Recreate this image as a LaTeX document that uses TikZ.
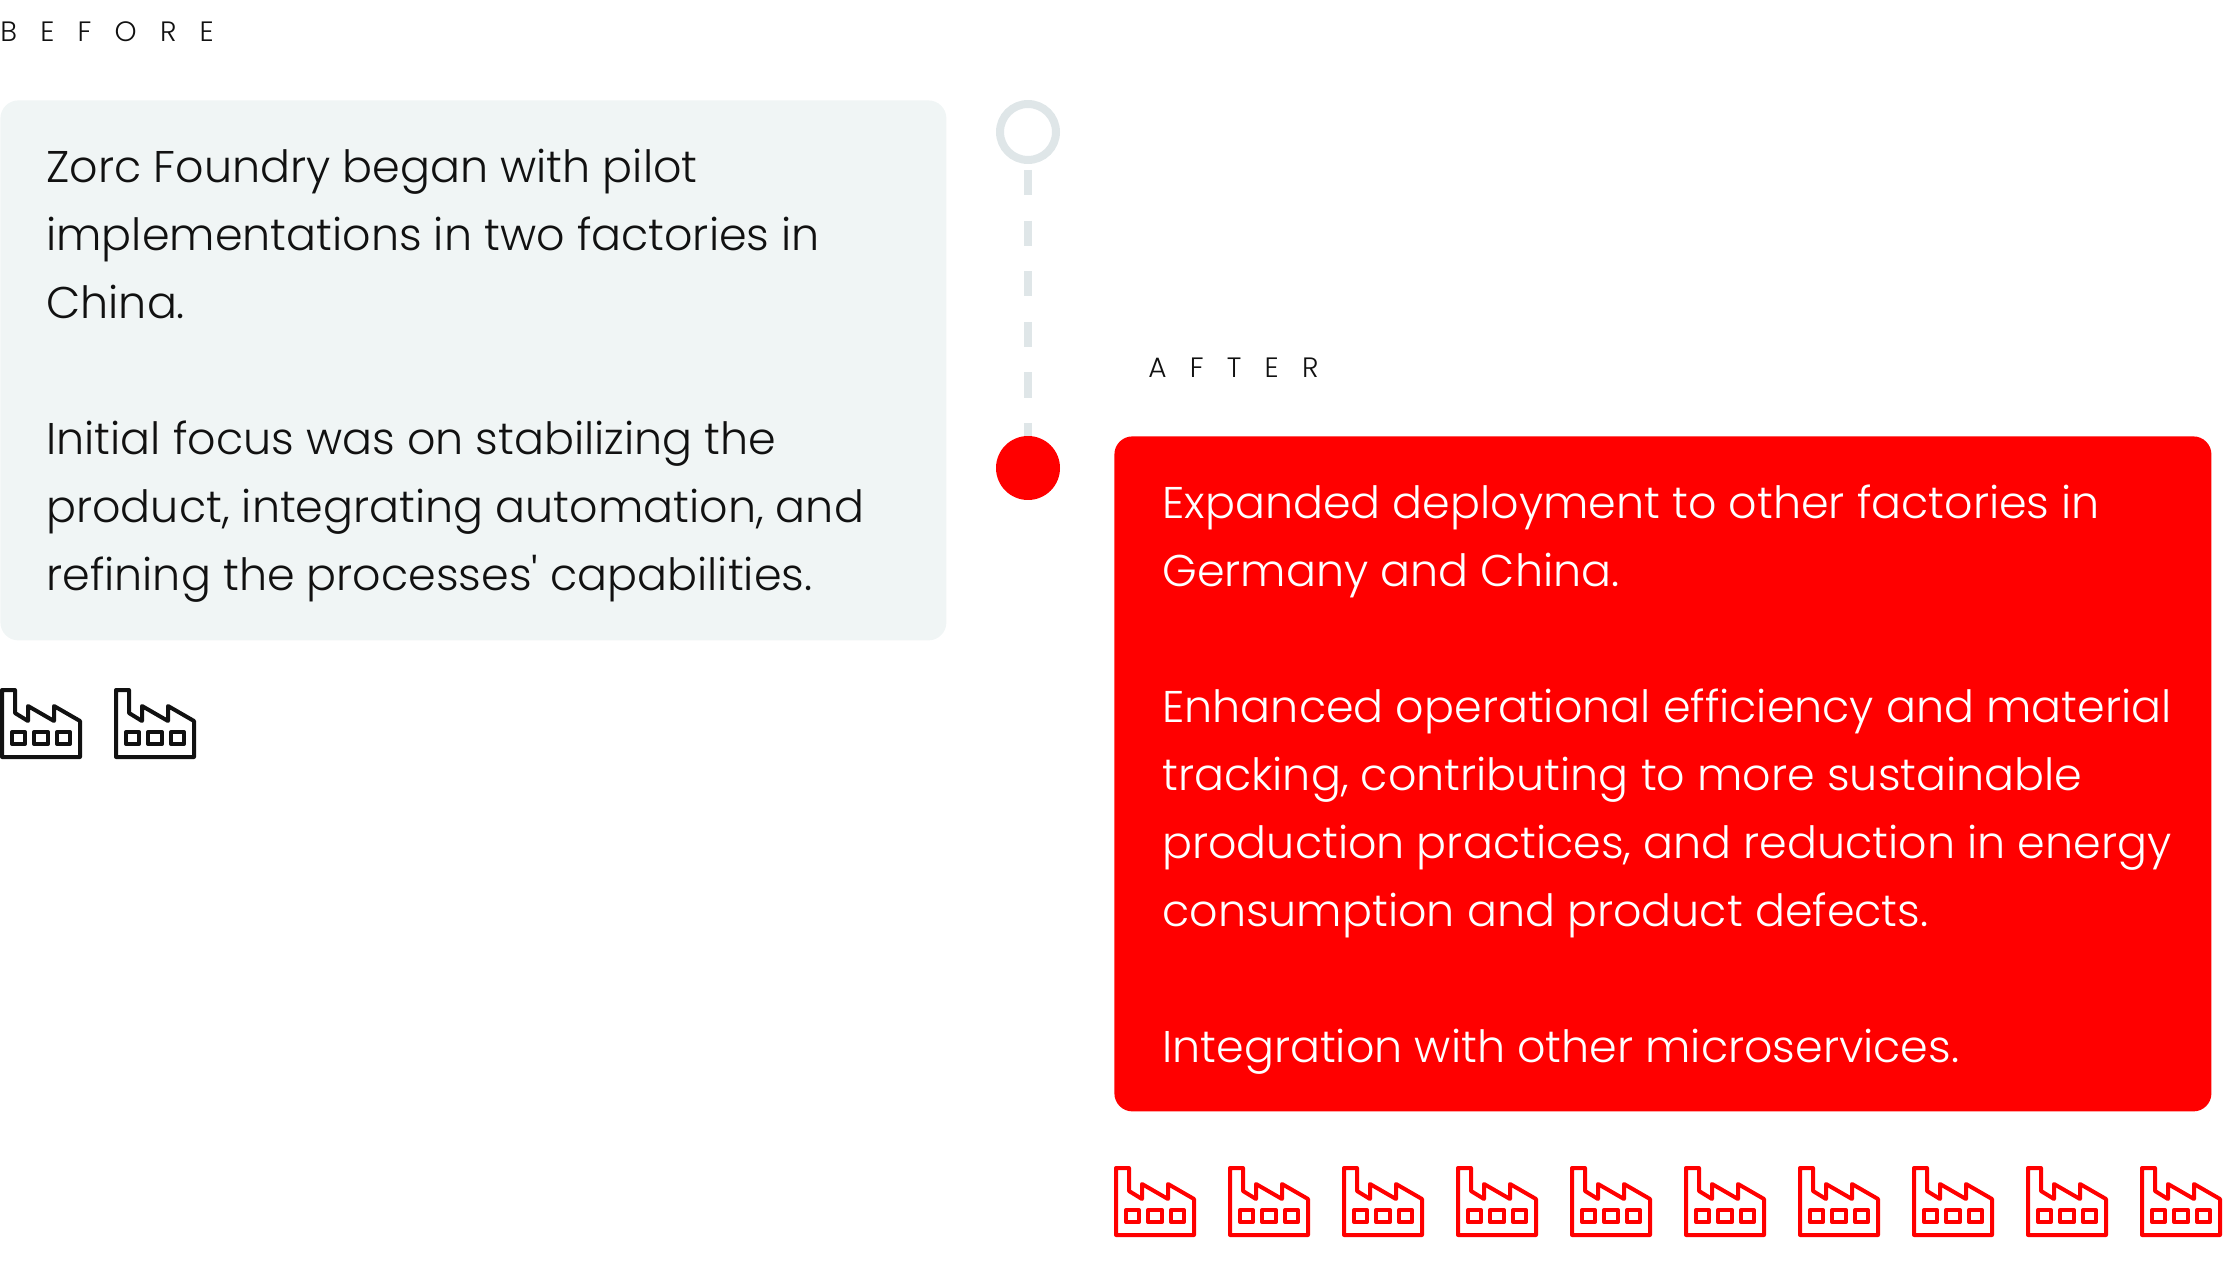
\documentclass[tikz,border=0pt]{standalone}
\usepackage{fontspec}
\setmainfont{Poppins Light}
\newfontfamily\labelfont[LetterSpace=83]{Poppins Light}
\definecolor{rot}{HTML}{FF0000}
\definecolor{hell}{HTML}{F0F5F5}
\definecolor{ringg}{HTML}{DFE6E8}
\definecolor{tinte}{HTML}{111111}
\tikzset{
  panel/.style={anchor=north west,rounded corners=9pt,inner sep=0pt},
  paneltext/.style={anchor=west,inner sep=0pt,align=left,yshift=-2.7pt,font=\fontsize{22.2}{34}\selectfont},
  steplabel/.style={anchor=west,inner sep=0pt,tinte,font=\labelfont\fontsize{14}{16}\selectfont},
  dotnode/.style={circle,inner sep=0pt,minimum size=32pt},
  iconline/.style={line width=2pt,line join=round},
  factory/.pic={
    \draw[iconline] (2,2)--(15,2)--(15,25)--(28,33)--(28,18)--(54,33)--(54,18)--(80,33)--(80,69)--(2,69)--cycle;
    \draw[iconline] (12,44) rectangle (25,56);
    \draw[iconline] (34,44) rectangle (48,56);
    \draw[iconline] (57,44) rectangle (70,56);
  },
}
\begin{document}
\begin{tikzpicture}[x=0.5pt,y=-0.5pt]
  \useasboundingbox (0,0) rectangle (2224,1278);
  \node[steplabel] (beforelabel) at (0,32) {BEFORE};
  \node[steplabel] (afterlabel) at (1148,368) {AFTER};
  \node[panel,fill=hell,minimum width=473pt,minimum height=270pt] (beforebox) at (0,100) {};
  \node[paneltext,text=tinte,xshift=23pt] (beforetext) at (beforebox.west)
    {Zorc Foundry began with pilot\\implementations in two factories in\\China.\\[34pt]Initial focus was on stabilizing the\\product, integrating automation, and\\refining the processes\textquotesingle{} capabilities.};
  \node[panel,fill=rot,minimum width=548.5pt,minimum height=337.5pt] (afterbox) at (1114,436) {};
  \node[paneltext,text=white,xshift=24pt] (aftertext) at (afterbox.west)
    {Expanded deployment to other factories in\\Germany and China.\\[34pt]Enhanced operational efficiency and material\\tracking, contributing to more sustainable\\production practices, and reduction in energy\\consumption and product defects.\\[34pt]Integration with other microservices.};
  \node[dotnode,draw=ringg,line width=4pt,minimum size=28pt,fill=white] (beforedot) at (1028,132) {};
  \node[dotnode,fill=rot] (afterdot) at (1028,468) {};
  \draw[ringg,line width=4pt,dash pattern=on 12.65pt off 12.65pt,dash phase=22.3pt] (beforedot) -- (afterdot);
  \foreach \x in {0,114}
    \pic[tinte] at (\x,688) {factory};
  \foreach \n in {0,...,9}
    \pic[rot] at (1114+\n*114,1166) {factory};
\end{tikzpicture}
\end{document}
